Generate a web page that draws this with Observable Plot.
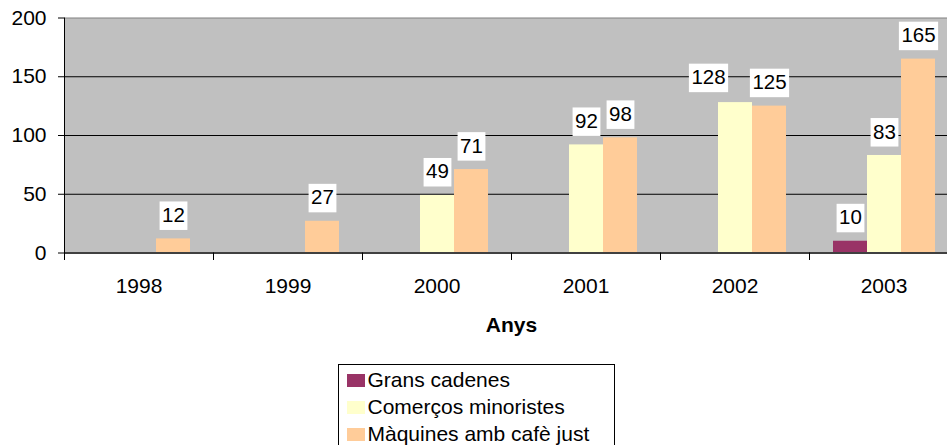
<!DOCTYPE html>
<html>
<head>
<meta charset="utf-8">
<script src="https://cdn.jsdelivr.net/npm/d3@7"></script>
<script src="https://cdn.jsdelivr.net/npm/@observablehq/plot@0.6"></script>
<style>
  html, body { margin: 0; padding: 0; background: #fff; overflow: hidden; }
  body { font-family: "Liberation Sans", Arial, sans-serif; }
  #wrap { width: 947px; height: 350px; overflow: hidden; position: relative; }
  #wrap svg { max-width: none !important; }
  #legend {
    position: absolute; left: 338px; top: 363.5px; width: 277px; height: 100px;
    border: 1px solid #000; box-sizing: border-box; background: #fff;
    font-size: 21px; line-height: 27px; color: #000; padding: 1.5px 0 0 8px;
  }
  #legend .row { display: flex; align-items: center; white-space: nowrap; height: 27px; }
  #legend .sw { width: 17.5px; height: 13.5px; margin-right: 3px; margin-top: 2px; flex: none; }
</style>
</head>
<body>
<div id="wrap"></div>
<div id="legend"></div>
<script>
const years = ["1998", "1999", "2000", "2001", "2002", "2003"];
const series = ["Grans cadenes", "Comerços minoristes", "Màquines amb cafè just"];
const gransCadenes = [0, 0, 0, 0, 0, 10];
const comercosMinoristes = [0, 0, 49, 92, 128, 83];
const maquinesCafe = [12, 27, 71, 98, 125, 165];
const yTicks = [0, 50, 100, 150, 200];
const seriesColors = ["#993366", "#FFFFCC", "#FFCC99"];
const xTitle = "Anys";

const valuesBySeries = [gransCadenes, comercosMinoristes, maquinesCafe];
const rows = [];
years.forEach((year, i) => {
  series.forEach((s, j) => {
    rows.push({year, series: s, value: valuesBySeries[j][i]});
  });
});
const nonZero = rows.filter(d => d.value > 0);
const shifted = d => d.year === "2002" && d.series === "Comerços minoristes";

const font = '"Liberation Sans", Arial, sans-serif';

const chart = Plot.plot({
  width: 958,
  height: 350,
  marginLeft: 64,
  marginRight: 0,
  marginTop: 17.5,
  marginBottom: 97.5,
  style: {fontFamily: font, fontSize: "21px", color: "#000", background: "transparent", maxWidth: "none"},
  fx: {domain: years, padding: 0},
  x: {domain: series, paddingInner: 0, paddingOuter: 0.691, axis: null},
  y: {domain: [0, 200], axis: null},
  color: {domain: series, range: seriesColors},
  marks: [
    Plot.frame({facet: "super", fill: "#C0C0C0", stroke: null}),
    Plot.ruleY(yTicks.filter(v => v > 0 && v < 200), {stroke: "#000", strokeWidth: 1}),
    Plot.ruleY([200], {stroke: "#808080", strokeWidth: 1.2}),
    Plot.barY(nonZero, {fx: "year", x: "series", y: "value", fill: "series"}),
    Plot.ruleY([0], {stroke: "#404040", strokeWidth: 2.2}),
    Plot.frame({anchor: "left", insetTop: 235, insetBottom: -6.5, stroke: "#000"}),
    Plot.frame({anchor: "left", facet: "super", insetBottom: -6.5, stroke: "#000"}),
    Plot.axisY(yTicks, {anchor: "left", tickSize: 6, tickPadding: 12, fontSize: 21, stroke: "#000", label: null}),
    Plot.axisFx({anchor: "bottom", tickSize: 0, tickPadding: 25.5, fontSize: 21, label: null}),
    Plot.text([xTitle], {facet: "super", frameAnchor: "bottom", dy: 79, fontWeight: "bold", fontSize: 21, fill: "#000"}),
    Plot.text(nonZero.filter(d => !shifted(d)), {fx: "year", x: "series", y: "value", text: d => String(d.value), dy: -23.5, fontSize: 20.5, fill: "#000", className: "lbl"}),
    Plot.text(nonZero.filter(shifted), {fx: "year", x: "series", y: "value", text: d => String(d.value), dy: -25, dx: -27, fontSize: 20.5, fill: "#000", className: "lbl"})
  ]
});
chart.style.maxWidth = "none";

document.getElementById("wrap").appendChild(chart);

// white boxes behind the data labels
document.querySelectorAll("g.lbl text").forEach(t => {
  const bb = t.getBBox();
  const r = document.createElementNS("http://www.w3.org/2000/svg", "rect");
  r.setAttribute("x", bb.x - 2.5);
  r.setAttribute("y", bb.y - 1.5);
  r.setAttribute("width", bb.width + 5);
  r.setAttribute("height", bb.height + 5.5);
  r.setAttribute("fill", "#fff");
  const tr = t.getAttribute("transform");
  if (tr) r.setAttribute("transform", tr);
  t.parentNode.insertBefore(r, t);
});

// legend
const legend = document.getElementById("legend");
series.forEach((s, i) => {
  const row = document.createElement("div");
  row.className = "row";
  const sw = document.createElement("span");
  sw.className = "sw";
  sw.style.background = seriesColors[i];
  const lab = document.createElement("span");
  lab.textContent = s;
  row.appendChild(sw);
  row.appendChild(lab);
  legend.appendChild(row);
});
</script>
</body>
</html>
